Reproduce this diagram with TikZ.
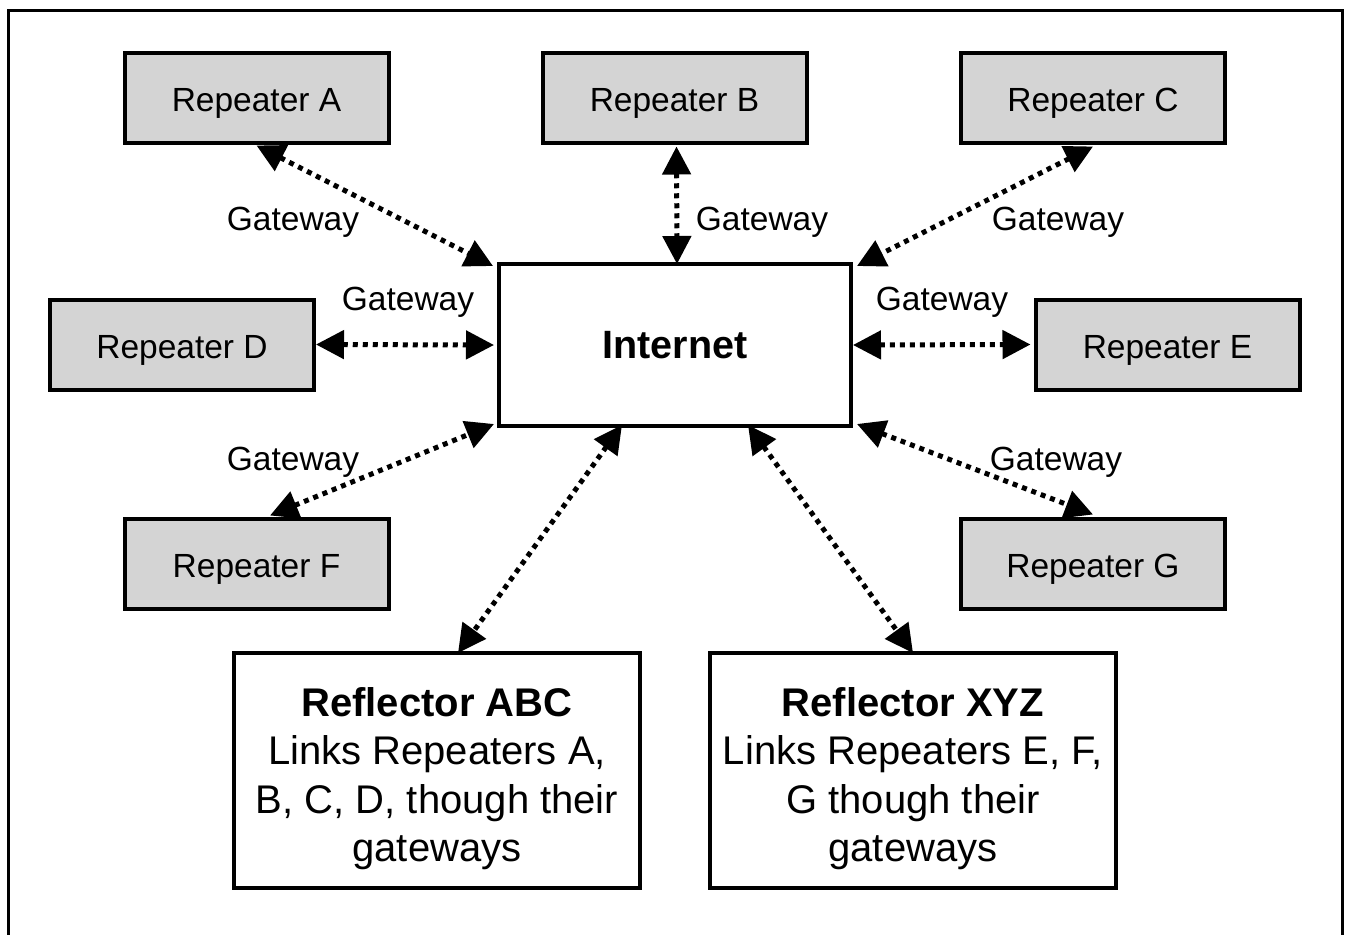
\documentclass[tikz,border=0pt]{standalone}
\usepackage{fontspec}
\setmainfont{Liberation Sans}
\usetikzlibrary{arrows.meta,calc}
\definecolor{rgray}{HTML}{D4D4D4}
\pgfdeclarelayer{bg}
\pgfsetlayers{bg,main}
\begin{document}
\begin{tikzpicture}[x=1pt,y=-1pt,
  rep/.style={draw,line width=4pt,fill=rgray,minimum width=264pt,minimum height=90pt,inner sep=0pt,text height=27pt,text depth=0pt,font=\fontsize{33.5}{40}\selectfont},
  hub/.style={draw,line width=4pt,fill=white,minimum width=352pt,minimum height=162pt,inner sep=0pt,font=\fontsize{39.5}{46}\selectfont\bfseries},
  refl/.style={draw,line width=4pt,fill=white,minimum width=406pt,minimum height=235pt,inner sep=0pt,align=center,font=\fontsize{40}{48.5}\selectfont},
  gw/.style={font=\fontsize{33.5}{40}\selectfont,inner sep=0pt,text height=23.5pt,text depth=0pt},
  link/.style={line width=5pt,dash pattern=on 5pt off 5pt,{Triangle[length=28pt,width=28pt]}-{Triangle[length=28pt,width=28pt]}}
]
\useasboundingbox (0,0) rectangle (1345,935);
\draw[line width=3pt] (8,960) -- (8,10) -- (1342,10) -- (1342,960);
\node[rep] (A) at (256.5,97.5) {Repeater A};
\node[rep] (B) at (674.5,97.5) {Repeater B};
\node[rep] (C) at (1093,97.5) {Repeater C};
\node[rep] (D) at (182,344.5) {Repeater D};
\node[rep] (E) at (1167.5,344.5) {Repeater E};
\node[rep] (F) at (256.5,563.5) {Repeater F};
\node[rep] (G) at (1093,563.5) {Repeater G};
\node[hub] (I) at (675,345) {Internet};
\node[refl] (R1) at (437,770.5) {\rule{0pt}{45pt}\textbf{Reflector ABC}\\Links Repeaters A,\\B, C, D, though their\\gateways};
\node[refl] (R2) at (913,770.5) {\rule{0pt}{45pt}\textbf{Reflector XYZ}\\Links Repeaters E, F,\\G though their\\gateways};
\begin{pgfonlayer}{bg}
\draw[link] ([yshift=-1pt]A.south) -- ([xshift=-4pt,yshift=-4pt]I.north west);
\draw[link] ([xshift=2pt,yshift=-2pt]B.south) -- ([xshift=2pt,yshift=-2pt]I.north);
\draw[link] ([yshift=-2pt]C.south) -- ([xshift=4pt,yshift=-4pt]I.north east);
\draw[link] (D.east) -- ([xshift=-3pt]I.west);
\draw[link] (I.east) -- ([xshift=-3pt]E.west);
\draw[link] ([xshift=13.5pt,yshift=1pt]F.north) -- ([xshift=-3pt,yshift=4pt]I.south west);
\draw[link] ([xshift=4pt,yshift=4pt]I.south east) -- ([yshift=2pt]G.north);
\draw[link] ([xshift=-53pt,yshift=3pt]I.south) -- ([xshift=21pt,yshift=-2pt]R1.north);
\draw[link] ([xshift=73pt,yshift=3pt]I.south) -- ([yshift=-2pt]R2.north);
\end{pgfonlayer}
\node[gw] (gA) at (293,219) {Gateway};
\node[gw] (gB) at (762,219) {Gateway};
\node[gw] (gC) at (1058,219) {Gateway};
\node[gw] (gD) at (408,299) {Gateway};
\node[gw] (gE) at (942,299) {Gateway};
\node[gw] (gF) at (293,459) {Gateway};
\node[gw] (gG) at (1056,459) {Gateway};
\end{tikzpicture}
\end{document}
